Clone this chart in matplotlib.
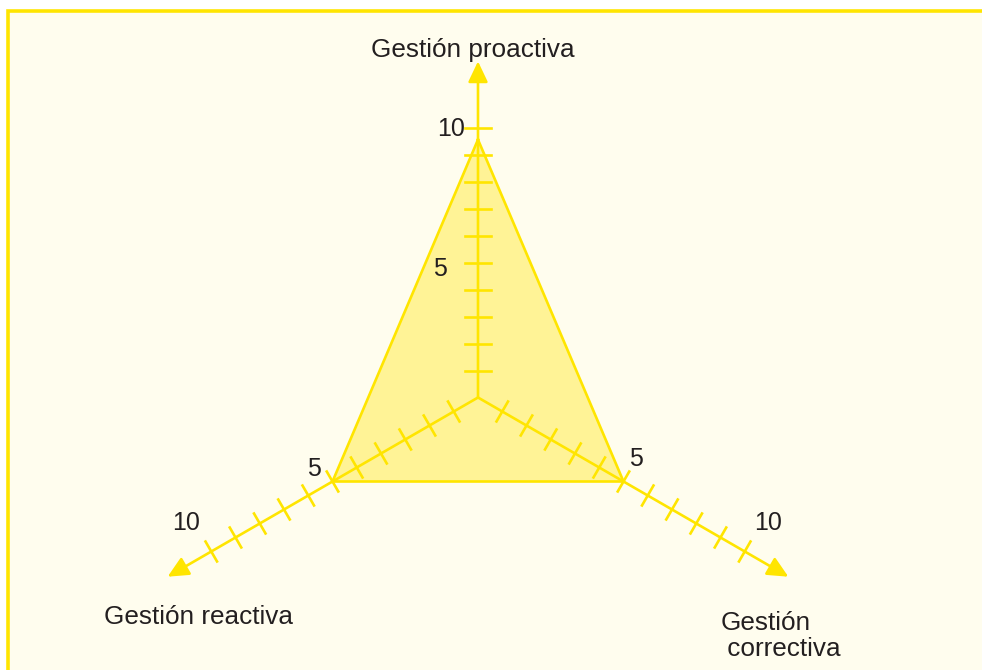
import numpy as np
import matplotlib.pyplot as plt
from matplotlib.patches import Rectangle

plt.rcParams['font.family'] = ['Liberation Sans', 'DejaVu Sans']

# datos del grafico
ejes = ['Gestión proactiva', 'Gestión reactiva', 'Gestión\n correctiva']
angulos = [90, 210, 330]          # direccion de cada eje (grados)
valores = [9.55, 6.0, 6.0]        # vertices del triangulo
n_marcas = [10, 11, 11]           # marcas sobre cada eje
largo_eje = [12.45, 12.8, 12.8]   # hasta la punta de la flecha
escala_px = [27.0, 28.0, 28.0]    # px por unidad en cada eje
etiquetas = [(0, 10, '10'), (0, 5, '5'),
             (1, 6.0, '5'), (1, 10, '10'),
             (2, 6.0, '5'), (2, 10, '10')]

AMARILLO = '#FFE500'
RELLENO = '#FFF396'
FONDO = '#FFFDEE'
TEXTO = '#231F20'
centro = np.array([478.0, 397.5])

fig = plt.figure(figsize=(9.82, 6.70), dpi=100)
fig.patch.set_facecolor('white')
ax = fig.add_axes([0, 0, 1, 1])
ax.set_xlim(0, 982)
ax.set_ylim(670, 0)
ax.axis('off')

ax.add_patch(Rectangle((8.5, 10.5), 990, 680, facecolor=FONDO, edgecolor=AMARILLO,
                       lw=2.6, zorder=0))


def punto(i, v):
    a = np.radians(angulos[i])
    d = np.array([np.cos(a), -np.sin(a)])
    return centro + d * v * escala_px[i], d


# triangulo
vert = np.array([punto(i, valores[i])[0] for i in range(3)])
ax.fill(vert[:, 0], vert[:, 1], facecolor=RELLENO, edgecolor='none', zorder=1)
ax.plot(np.append(vert[:, 0], vert[0, 0]), np.append(vert[:, 1], vert[0, 1]),
        color=AMARILLO, lw=1.9, zorder=3, solid_joinstyle='miter')

# ejes con flechas y marcas
for i in range(3):
    punta, d = punto(i, largo_eje[i])
    ax.annotate('', xy=punta, xytext=centro,
                arrowprops=dict(arrowstyle='-|>,head_length=0.42,head_width=0.2',
                                color=AMARILLO, lw=1.9, mutation_scale=30,
                                shrinkA=0, shrinkB=0), zorder=2)
    perp = np.array([-d[1], d[0]])
    media = 13 if i == 0 else 11.5
    for k in range(1, n_marcas[i] + 1):
        p = punto(i, k)[0]
        a, b = p - perp * media, p + perp * media
        ax.plot([a[0], b[0]], [a[1], b[1]], color=AMARILLO, lw=1.9, zorder=2)

# etiquetas de escala
desplaz = {(0, '10'): (-26.5, 1), (0, '5'): (-38.5, 6),
           (1, '5'): (-19, -12.5), (1, '10'): (-49, -15),
           (2, '5'): (12.5, -22.5), (2, '10'): (47.5, -15)}
for i, v, t in etiquetas:
    p = punto(i, v)[0]
    dx, dy = desplaz[(i, t)]
    ax.text(p[0] + dx, p[1] + dy, t, fontsize=18, color=TEXTO,
            ha='center', va='center')

# nombres de los ejes
p0 = punto(0, largo_eje[0])[0]
ax.text(p0[0] - 5, p0[1] - 11, ejes[0], fontsize=18.8, color=TEXTO,
        ha='center', va='center')
p1 = punto(1, largo_eje[1])[0]
ax.text(p1[0] + 31, p1[1] + 40, ejes[1], fontsize=18.8, color=TEXTO,
        ha='center', va='center')
p2 = punto(2, largo_eje[2])[0]
ax.text(p2[0] - 68, p2[1] + 59, ejes[2], fontsize=18.8, color=TEXTO,
        ha='left', va='center', linespacing=1.12)

fig.savefig('out.png', dpi=100, facecolor=fig.get_facecolor())
